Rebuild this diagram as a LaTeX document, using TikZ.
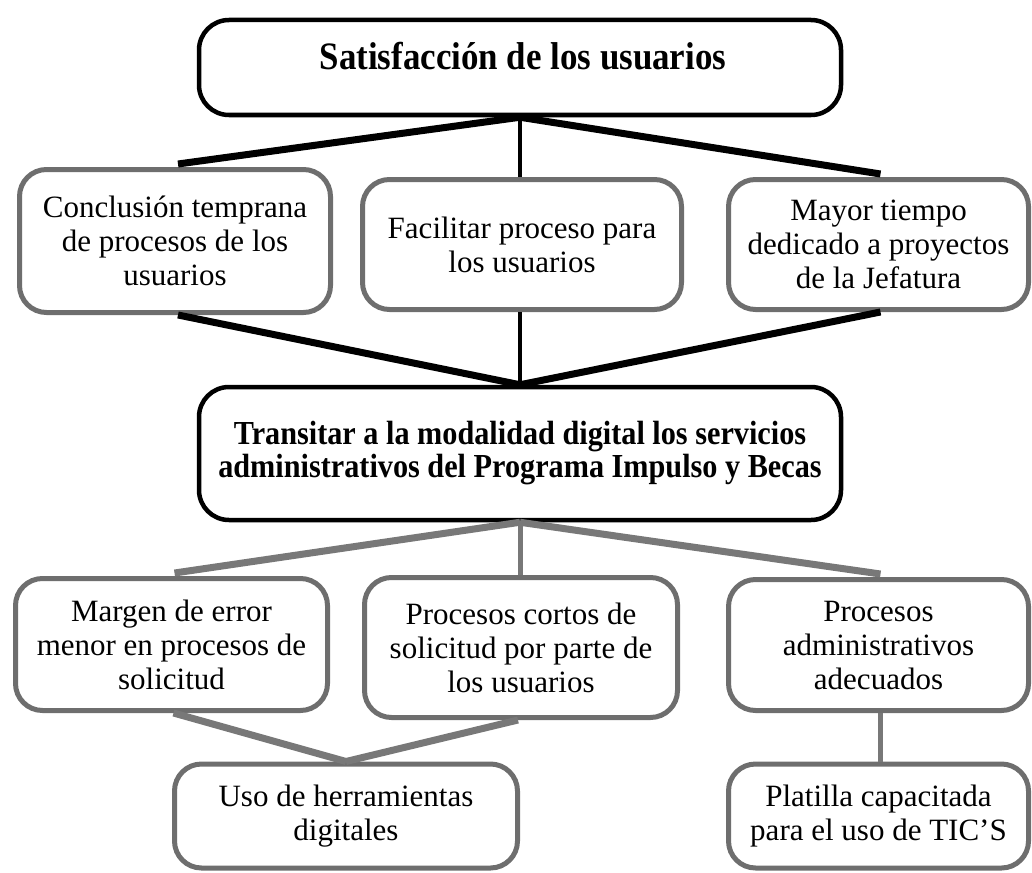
\documentclass[tikz,border=0pt]{standalone}
\usepackage{fontspec}
\setmainfont{Liberation Serif}
\newfontfamily\bcond[FakeStretch=0.9]{Liberation Serif}
\definecolor{boxgray}{HTML}{6E6E6E}
\definecolor{linegray}{HTML}{787878}
\begin{document}
\begin{tikzpicture}[x=1pt,y=-1pt,
  bbox/.style={draw=black, line width=4.5pt, rounded corners=30pt, fill=white, inner sep=0pt, align=center},
  gbox/.style={draw=boxgray, line width=5pt, rounded corners=27pt, fill=white, align=center, inner sep=0pt,
    font=\fontsize{31}{34}\selectfont},
  btext/.style={font=\bcond\bfseries\fontsize{33.6}{33}\selectfont, align=center},
  blk/.style={line width=7pt, black},
  blkv/.style={line width=4.5pt, black},
  gry/.style={line width=7pt, linegray},
  gryv/.style={line width=5pt, linegray}
]
\useasboundingbox (0,0) rectangle (1032,872);

% boxes
\node[bbox, minimum width=642pt, minimum height=95pt] (top) at (520,67.5) {};
\node[font=\bcond\bfseries\fontsize{38.8}{40}\selectfont, anchor=base] (toptext) at (523,70) {Satisfacción de los usuarios};

\node[gbox, minimum width=311pt, minimum height=143pt] (A) at (175,241) {Conclusión temprana\\de procesos de los\\usuarios};
\node[gbox, minimum width=319pt, minimum height=130pt] (B) at (522,244.5) {Facilitar proceso para\\los usuarios};
\node[gbox, minimum width=300pt, minimum height=130pt] (C) at (878.5,244.5) {Mayor tiempo\\dedicado a proyectos\\de la Jefatura};

\node[bbox, minimum width=642pt, minimum height=133pt, btext] (M) at (520,453.5) {Transitar a la modalidad digital los servicios\\administrativos del Programa Impulso y Becas};

\node[gbox, minimum width=312pt, minimum height=132pt] (D) at (171.5,644.5) {Margen de error\\menor en procesos de\\solicitud};
\node[gbox, minimum width=313pt, minimum height=140pt] (E) at (521,647.5) {Procesos cortos de\\solicitud por parte de\\los usuarios};
\node[gbox, minimum width=300pt, minimum height=131pt] (F) at (878.5,645) {Procesos\\administrativos\\adecuados};

\node[gbox, minimum width=343pt, minimum height=104pt] (G) at (346,816) {Uso de herramientas\\digitales};
\node[gbox, minimum width=300pt, minimum height=104pt] (H) at (878.5,816) {Platilla capacitada\\para el uso de TIC'S};

% connectors top
\draw[blk] (top.south) -- ([xshift=3pt,yshift=3pt]A.north);
\draw[blkv] (top.south) -- (top.south |- B.north);
\draw[blk] (top.south) -- ([xshift=2pt,yshift=3pt]C.north);

\draw[blk] ([xshift=3pt]A.south) -- (M.north);
\draw[blkv] (M.north |- B.south) -- (M.north);
\draw[blk] ([xshift=2pt]C.south) -- (M.north);

% connectors bottom
\draw[gry] (M.south) -- ([xshift=3pt,yshift=3pt]D.north);
\draw[gryv] (M.south) -- (M.south |- E.north);
\draw[gry] (M.south) -- ([xshift=2pt,yshift=3pt]F.north);

\draw[gry] ([xshift=2pt]D.south) -- (G.north);
\draw[gry] ([xshift=-3pt]E.south) -- (G.north);
\draw[gryv] ([xshift=2pt]F.south) -- ([xshift=2pt]H.north);
\end{tikzpicture}
\end{document}
